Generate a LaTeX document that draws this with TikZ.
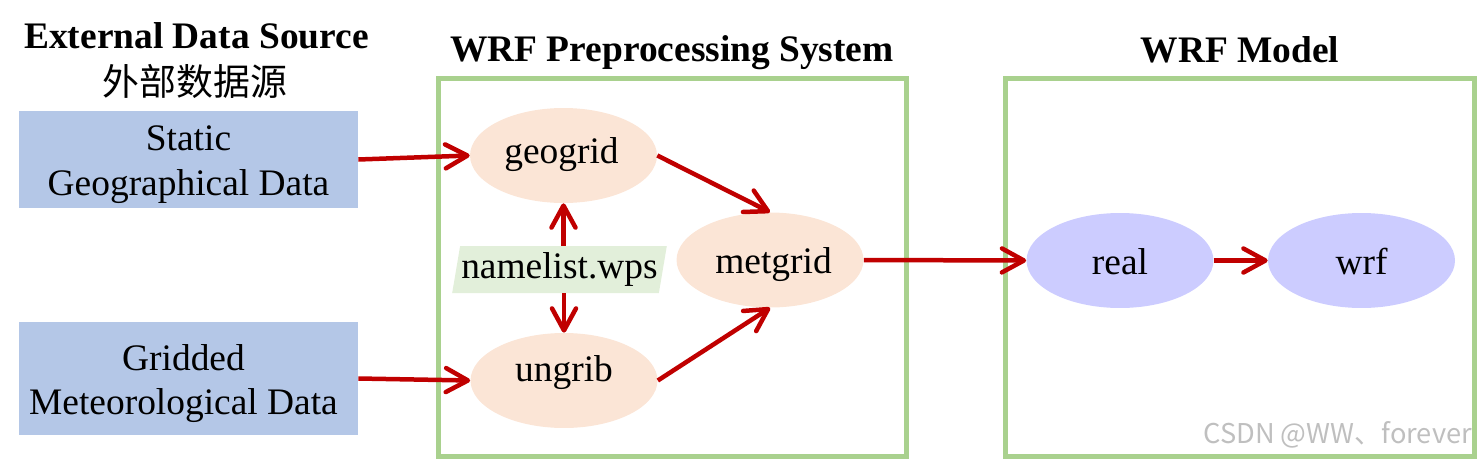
\documentclass[tikz,border=0pt]{standalone}
\usepackage{fontspec}
\setmainfont{Liberation Serif}
\newfontfamily\cjk{Noto Sans CJK SC}
\usetikzlibrary{shapes.geometric,arrows.meta}
\definecolor{boxblue}{HTML}{B4C7E7}
\definecolor{framegreen}{HTML}{A9D18E}
\definecolor{peach}{HTML}{FBE5D6}
\definecolor{lav}{HTML}{CCCCFF}
\definecolor{nlgreen}{HTML}{E2EFDA}
\definecolor{arrred}{HTML}{C00000}
\begin{document}
\begin{tikzpicture}[x=0.02cm,y=-0.02cm,
  every node/.style={font=\fontsize{21.3pt}{25.5pt}\selectfont},
  srcbox/.style={rectangle, fill=boxblue, minimum width=6.78cm, inner sep=0},
  srctext/.style={align=center, inner sep=0},
  proc/.style={ellipse, fill=peach, inner sep=0, minimum width=3.74cm, minimum height=1.9cm},
  model/.style={ellipse, fill=lav, inner sep=0, minimum width=3.74cm, minimum height=1.9cm},
  nlbox/.style={trapezium, trapezium left angle=77, trapezium right angle=103, trapezium stretches=true, fill=nlgreen, inner sep=0, minimum width=4.3cm, minimum height=0.94cm},
  frame/.style={draw=framegreen, line width=0.1cm},
  arr/.style={draw=arrred, line width=0.09cm, -{Straight Barb[length=0.44cm,width=0.48cm,round]}},
  title/.style={font=\bfseries\fontsize{21.3pt}{25.5pt}\selectfont, anchor=base},
  wmark/.style={font=\cjk\fontsize{15.5pt}{18pt}\selectfont, text=black!25, anchor=base west, inner sep=0}
]
\useasboundingbox (0,0) rectangle (1477,460);

% titles
\node[title] (t1) at (196.5,48) {External Data Source};
\node[anchor=base, font=\cjk\fontsize{21pt}{25.5pt}\selectfont] (t1c) at (195,95) {外部数据源};
\node[title] (t2) at (672,61) {WRF Preprocessing System};
\node[title] (t3) at (1240,62) {WRF Model};

% watermark
\node[wmark] (wm) at (1203,443) {CSDN @WW、forever};

% frames
\draw[frame] (438.5,78) rectangle (906.5,456.5);
\draw[frame] (1005,78) rectangle (1474,456.5);

% source boxes
\node[srcbox, minimum height=1.94cm] (box1) at (188.5,159.5) {};
\node[srctext] (box1t) at ([yshift=-0.1cm]box1.center) {Static\\Geographical Data};
\node[srcbox, minimum height=2.26cm] (box2) at (188.5,378.5) {};
\node[srctext] (box2t) at ([xshift=-0.1cm,yshift=-0.1cm]box2.center) {Gridded\\Meteorological Data};

% WPS
\node[proc, text height=0.52cm, text depth=0.22cm] (geogrid) at (563.5,155.5) {\hspace{-0.08cm}geogrid\hspace{0.08cm}};
\node[proc, text height=0.39cm, text depth=0.35cm] (ungrib) at (564,380.5) {ungrib};
\node[proc, text height=0.63cm, text depth=0.11cm] (metgrid) at (770,260) {\hspace{0.14cm}metgrid\hspace{-0.14cm}};
\node[nlbox] (nl) at (559.5,269.5) {namelist.wps};

% model
\node[model, text height=0.64cm, text depth=0.10cm] (real) at (1120,260.5) {real};
\node[model, text height=0.64cm, text depth=0.10cm] (wrf) at (1361.5,260.5) {wrf};

% connectors
\draw[arr] (box1.east) -- (geogrid.west);
\draw[arr] (box2.east) -- (ungrib.west);
\draw[arr] (geogrid.east) -- (metgrid.north);
\draw[arr] (ungrib.east) -- (metgrid.south);
\draw[arr] (nl.north -| geogrid.south) -- (geogrid.south);
\draw[arr] (nl.south -| ungrib.north) -- (ungrib.north);
\draw[arr] (metgrid.east) -- (real.west);
\draw[arr] (real.east) -- (wrf.west);
\end{tikzpicture}
\end{document}
